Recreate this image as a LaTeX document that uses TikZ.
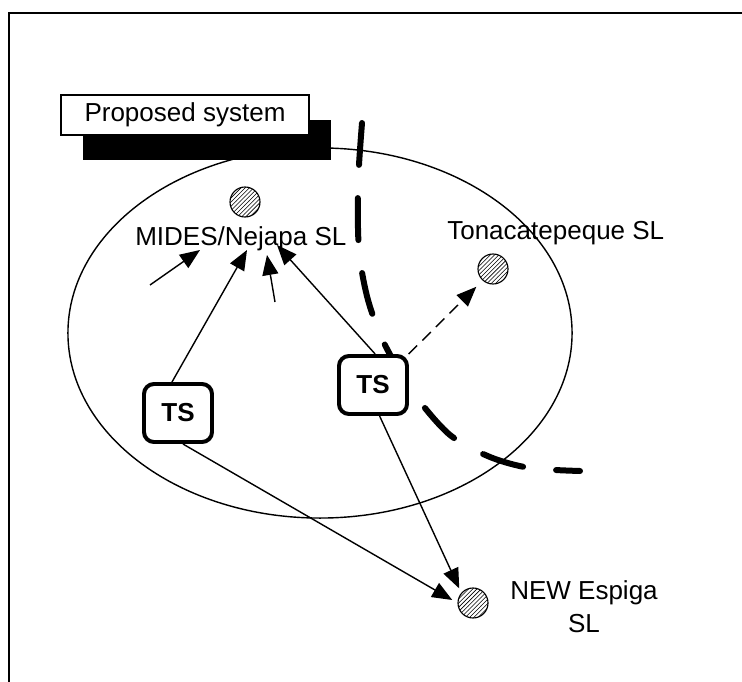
\documentclass[tikz,border=0pt]{standalone}
\usepackage{fontspec}
\setmainfont{Liberation Sans}
\usetikzlibrary{arrows.meta,positioning,shapes.geometric,patterns,shadows}

\begin{document}
\begin{tikzpicture}[
  x=0.025cm, y=-0.025cm,
  font=\fontsize{18.5}{23.4}\selectfont,
  frame/.style={line width=1.4pt},
  area/.style={draw, ellipse, line width=1pt, minimum width=12.6cm,
               minimum height=9.25cm, inner sep=0pt},
  site/.style={circle, draw, line width=0.8pt, pattern=north east lines,
               minimum size=0.75cm, inner sep=0pt},
  lbl/.style={inner sep=0pt},
  ts/.style={draw, line width=2.8pt, rounded corners=0.25cm, fill=white,
             font=\fontsize{18.5}{23.4}\selectfont\bfseries,
             minimum width=1.7cm, minimum height=1.45cm, inner sep=0pt},
  tag/.style={draw, fill=white, line width=0.8pt, minimum width=6.2cm,
              minimum height=1cm, inner sep=0pt,
              drop shadow={opacity=1, fill=black, shadow xshift=0.55cm, shadow yshift=-0.625cm}},
  flow/.style={-{Triangle[length=0.5cm, width=0.4cm]}, line width=1pt},
  link/.style={flow, dash pattern=on 0.3cm off 0.18cm},
  border/.style={line width=0.15cm, line cap=round, dash pattern=on 1.05cm off 0.83cm}
]
\useasboundingbox (0,0) rectangle (742,682);
\draw[frame] (9,682) -- (9,13) -- (742,13);

\node[area] (system) at (320,333) {};
\draw[border] plot[smooth, tension=0.5] coordinates
  {(362,123) (358,185) (359,250) (368,300) (385,345) (415,395)
   (450,435) (490,457) (530,468) (580,471)};

\node[tag] (title) at (185,115) {Proposed system};

\node[site] (mides) at (245,202) {};
\node[site] (tona) at (493,269) {};
\node[site] (espiga) at (473,603) {};
\node[lbl, anchor=base west] (mideslbl) at (135,245) {MIDES/Nejapa SL};
\node[lbl, anchor=base west] (tonalbl) at (447,240) {Tonacatepeque SL};
\node[lbl, anchor=north, align=center] (espigalbl) at (584,580) {NEW Espiga\\SL};

\node[ts] (ts1) at (178,413) {TS};
\node[ts] (ts2) at (373,385) {TS};

\coordinate (a1) at (150,285);
\coordinate (b1) at (200,250);
\coordinate (a2) at (275,302);
\coordinate (b2) at (267,255);
\coordinate (m1) at (247,250);
\coordinate (m2) at (277,245);

\draw[flow] (a1) -- (b1);
\draw[flow] (a2) -- (b2);
\draw[flow] (ts1.101) -- (m1);
\draw[flow] (ts2.86) -- (m2);
\draw[link, shorten >=0.22cm] (ts2.41) -- (tona.228);
\draw[flow, shorten >=0.15cm] (ts1.-81) -- (espiga.180);
\draw[flow, shorten >=0.12cm] (ts2.-78) -- (espiga.139);
\end{tikzpicture}
\end{document}
